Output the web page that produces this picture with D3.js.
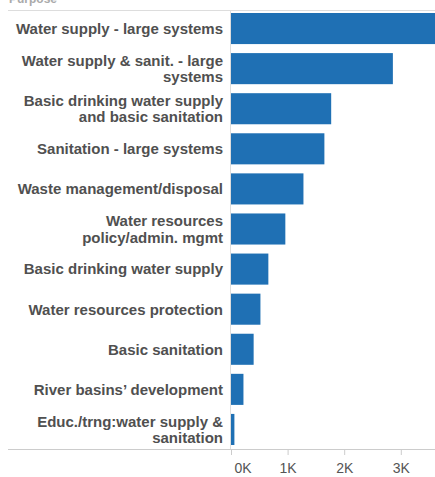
<!DOCTYPE html>
<html><head><meta charset="utf-8">
<script src="https://cdn.jsdelivr.net/npm/d3@7"></script>
<style>body{margin:0;background:#fff;}svg{display:block;}</style>
</head><body>
<script>
const categories = [
  ["Water supply - large systems"],
  ["Water supply & sanit. - large", "systems"],
  ["Basic drinking water supply", "and basic sanitation"],
  ["Sanitation - large systems"],
  ["Waste management/disposal"],
  ["Water resources", "policy/admin. mgmt"],
  ["Basic drinking water supply"],
  ["Water resources protection"],
  ["Basic sanitation"],
  ["River basins\u2019 development"],
  ["Educ./trng:water supply &", "sanitation"]
];
const values = [3700, 2860, 1770, 1650, 1280, 960, 660, 520, 400, 220, 60];
const tickValues = [0, 1000, 2000, 3000];
const tickLabels = ["0K", "1K", "2K", "3K"];

const W = 435, H = 477;
const svg = d3.select("body").append("svg").attr("width", W).attr("height", H);
const x0 = 231;
const x = d3.scaleLinear().domain([0, 1000]).range([x0, x0 + 56.6]);
const y = d3.scaleBand().domain(d3.range(categories.length)).range([9, 449]).paddingInner(0.225).paddingOuter(0.1);
const FONT = "Liberation Sans, Arial, sans-serif";

// faint cut-off header
svg.append("text").attr("x", 9).attr("y", 3).attr("font-family", FONT)
  .attr("font-size", 12).attr("font-weight", "bold").attr("fill", "#aaa").text("Purpose");

// grid lines
svg.append("line").attr("x1", 8).attr("x2", W).attr("y1", 10.5).attr("y2", 10.5).attr("stroke", "#ddd").attr("stroke-width", 1.2);
svg.append("line").attr("x1", 8).attr("x2", W).attr("y1", 449.5).attr("y2", 449.5).attr("stroke", "#ccc").attr("stroke-width", 1);
svg.append("line").attr("x1", x0 - 0.5).attr("x2", x0 - 0.5).attr("y1", 10).attr("y2", 449).attr("stroke", "#ddd").attr("stroke-width", 1);

// bars
svg.append("g").selectAll("rect").data(values).join("rect")
  .attr("x", x(0)).attr("y", (d, i) => y(i))
  .attr("width", d => x(d) - x(0)).attr("height", y.bandwidth())
  .attr("fill", "#1f70b4");

// labels
const lab = svg.append("g").attr("font-family", FONT)
  .attr("font-size", 15).attr("font-weight", "bold").attr("fill", "#505050").attr("text-anchor", "end");
categories.forEach((lines, i) => {
  const cy = y(i) + y.bandwidth() / 2;
  const n = lines.length;
  lines.forEach((t, j) => {
    lab.append("text").attr("x", 223).attr("y", cy + (j - (n - 1) / 2) * 16.5).attr("dy", "0.36em").text(t);
  });
});

// x axis
const axis = d3.axisBottom(x).tickValues(tickValues).tickFormat((d, i) => tickLabels[i]).tickSize(5).tickPadding(6);
const ax = svg.append("g").attr("transform", "translate(0,450)").call(axis);
ax.select(".domain").remove();
ax.selectAll(".tick line").attr("stroke", "#ccc");
ax.selectAll(".tick text").attr("font-family", FONT).attr("font-size", 14).attr("fill", "#555").attr("dy", "0.85em");
ax.selectAll(".tick text").filter(d => d === 0).attr("text-anchor", "start").attr("x", 3);
</script>
</body></html>
